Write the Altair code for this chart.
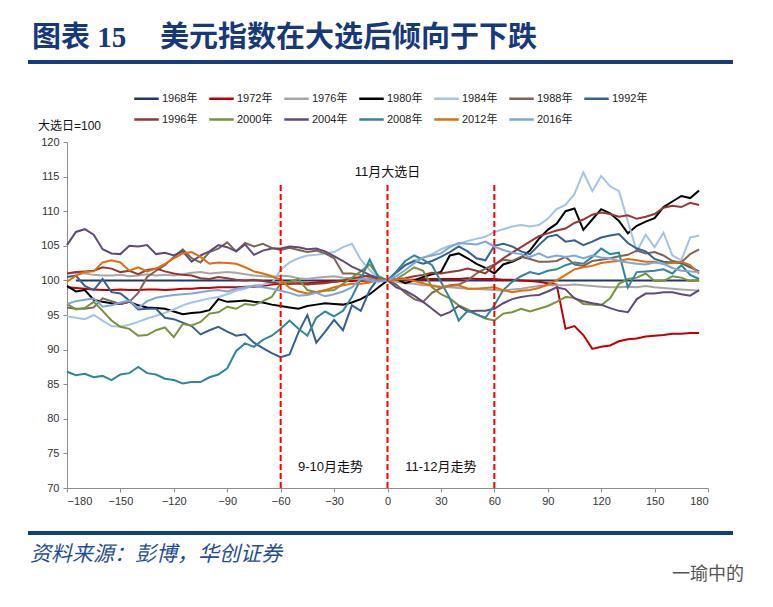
import altair as alt
import pandas as pd

# x grid (days relative to election day)
days = [-180, -175, -170, -165, -160, -155, -150, -145, -140, -135, -130, -125,
        -120, -115, -110, -105, -100, -95, -90, -85, -80, -75, -70, -65,
        -60, -55, -50, -45, -40, -35, -30, -25, -20, -15, -10, -5,
        0, 5, 10, 15, 20, 25, 30, 35, 40, 45, 50, 55,
        60, 65, 70, 75, 80, 85, 90, 95, 100, 105, 110, 115,
        120, 125, 130, 135, 140, 145, 150, 155, 160, 165, 170, 175]

series_names = ["1968年", "1972年", "1976年", "1980年", "1984年", "1988年", "1992年",
                "1996年", "2000年", "2004年", "2008年", "2012年", "2016年"]
series_colors = ["#1F3864", "#C00000", "#A6A6A6", "#000000", "#A3C4E4", "#7E6455", "#366092",
                 "#953735", "#77933C", "#604A7B", "#31859C", "#E46C0A", "#7EA6DB"]

v1968 = [None, 100.0, 100.0, 100.0, 100.0, 100.0, 100.0, 100.0, 100.0, 100.0, 100.0, 100.0,
         100.0, 100.0, 100.0, 100.0, 100.0, 100.0, 100.0, 100.0, 100.0, 100.0, 100.0, 100.0,
         100.0, 100.0, 100.0, 100.0, 100.0, 100.0, 100.0, 100.0, 100.0, 100.0, 100.0, 100.0,
         100.0, 100.0, 100.0, 100.0, 100.0, 100.0, 100.0, 100.0, 100.0, 100.0, 100.0, 100.0,
         100.0, 100.0, 100.0, 100.0, 100.0, 100.0, 100.0, 100.0, 100.0, 100.0, 100.0, 100.0,
         100.0, 100.0, 100.0, 100.0, 100.0, 100.0, 100.0, 100.0, 100.0, 100.0, 100.0, 100.0]
v1972 = [99.0, 98.9, 98.8, 98.7, 98.6, 98.6, 98.7, 98.6, 98.6, 98.7, 98.7, 98.6,
         98.7, 98.8, 98.8, 98.9, 98.9, 99.0, 99.0, 99.0, 99.1, 99.1, 99.2, 99.4,
         99.5, 99.5, 99.6, 99.6, 99.7, 99.8, 99.8, 99.9, 99.9, 100.0, 100.0, 100.0,
         100.0, 100.0, 100.1, 100.1, 100.2, 100.2, 100.2, 100.2, 100.2, 100.3, 100.2, 100.2,
         100.2, 100.1, 100.1, 100.0, 99.9, 99.8, 99.6, 99.4, 93.0, 93.4, 92.1, 90.1,
         90.4, 90.6, 91.2, 91.5, 91.6, 91.9, 92.0, 92.1, 92.3, 92.3, 92.4, 92.4]
v1976 = [101.0, 101.1, 101.0, 100.8, 100.7, 100.7, 100.8, 100.6, 100.7, 100.9, 100.7, 100.8,
         100.7, 100.9, 101.1, 101.2, 101.0, 101.1, 101.2, 101.1, 100.9, 100.7, 100.6, 100.5,
         100.7, 100.6, 100.3, 100.2, 100.4, 100.5, 100.6, 100.4, 100.3, 100.2, 100.3, 100.1,
         100.0, 99.8, 99.6, 99.5, 99.3, 99.3, 99.1, 99.0, 98.9, 98.8, 98.8, 98.7,
         98.6, 98.5, 98.7, 98.8, 99.0, 99.2, 99.3, 99.3, 99.3, 99.4, 99.3, 99.2,
         99.1, 99.0, 99.0, 99.1, 99.0, 99.2, 99.0, 98.9, 98.8, 98.7, 98.6, 98.5]
v1980 = [99.2, 98.4, 98.6, 97.2, 96.9, 96.7, 96.6, 96.9, 96.4, 96.1, 96.0, 95.9,
         95.5, 95.1, 95.3, 95.4, 95.7, 97.3, 96.9, 97.0, 97.1, 96.9, 96.8, 96.5,
         96.3, 96.1, 95.9, 96.3, 96.5, 96.7, 96.6, 96.5, 96.8, 97.3, 98.0, 99.0,
         100.0, 100.2, 99.6, 100.0, 100.5, 100.9, 101.2, 103.6, 103.9, 103.2, 102.4, 101.8,
         101.0, 102.3, 102.7, 103.3, 104.3, 106.0, 107.3, 108.2, 110.0, 110.4, 107.3, 108.8,
         110.3, 109.7, 108.6, 106.8, 107.9, 108.5, 109.0, 110.6, 111.4, 112.2, 111.9, 113.0]
v1984 = [94.8, 94.6, 94.4, 95.0, 94.2, 93.4, 93.3, 93.6, 94.0, 94.5, 94.9, 95.3,
         95.8, 96.4, 96.8, 97.1, 97.4, 97.6, 98.0, 98.5, 98.8, 99.3, 99.4, 99.6,
         101.5, 102.6, 103.2, 103.6, 103.7, 103.9, 104.1, 104.8, 105.3, 103.0, 101.5, 100.3,
         100.0, 101.0, 102.2, 102.9, 103.3, 103.8, 104.5, 105.0, 105.3, 105.7, 106.0, 106.3,
         107.0, 107.4, 107.8, 108.0, 107.8, 108.0, 108.9, 110.3, 110.9, 112.5, 115.6, 112.9,
         115.1, 113.6, 112.9, 108.5, 104.2, 106.6, 104.8, 106.9, 103.6, 102.9, 106.2, 106.5]
v1988 = [96.1, 95.9, 95.9, 96.1, 97.4, 97.0, 96.6, 96.9, 98.2, 100.5, 101.4, 102.2,
         103.4, 104.5, 103.2, 102.6, 104.1, 104.6, 105.5, 104.2, 105.4, 104.9, 105.3, 104.7,
         104.4, 104.7, 104.4, 104.1, 104.3, 103.9, 103.2, 101.0, 101.0, 100.8, 100.5, 100.2,
         100.0, 99.4, 98.2, 97.3, 96.9, 98.2, 98.9, 99.3, 99.4, 100.0, 101.0, 101.7,
         102.3, 103.0, 102.8, 103.4, 103.1, 102.7, 102.7, 102.8, 103.4, 102.3, 102.1, 102.8,
         103.0, 103.2, 103.5, 103.7, 104.3, 103.9, 104.1, 103.6, 102.8, 102.6, 103.8, 104.5]
v1992 = [100.5, 100.7, 99.2, 98.6, 100.2, 98.3, 98.1, 97.1, 95.8, 95.9, 95.9, 94.6,
         94.4, 93.9, 93.4, 92.2, 92.8, 93.3, 92.6, 92.0, 92.2, 91.0, 90.2, 89.5,
         88.9, 89.3, 92.5, 95.0, 91.0, 92.6, 94.3, 92.8, 96.4, 95.6, 98.6, 100.4,
         100.0, 101.2, 102.2, 102.8, 102.4, 102.8, 103.4, 104.1, 104.9, 104.2, 103.2, 102.9,
         105.0, 105.3, 104.9, 104.2, 103.8, 105.1, 106.3, 106.6, 105.6, 105.8, 105.1, 105.6,
         106.2, 106.5, 106.7, 105.4, 104.6, 104.2, 103.1, 102.7, 102.6, 102.5, 101.9, 101.3]
v1996 = [101.0, 101.2, 101.3, 101.4, 101.9, 101.7, 101.2, 101.4, 100.9, 101.5, 101.7, 101.3,
         101.0, 100.8, 100.7, 100.3, 100.2, 100.5, 100.3, 100.1, 100.0, 100.1, 99.9, 99.7,
         99.5, 99.6, 99.5, 99.4, 99.5, 99.6, 99.8, 100.0, 100.3, 100.5, 100.7, 100.3,
         100.0, 100.2, 100.3, 100.6, 100.8, 101.1, 101.0, 101.2, 101.4, 101.7, 101.4, 101.0,
         102.2, 103.2, 104.0, 104.8, 105.6, 106.4, 106.8, 107.2, 107.5, 108.3, 108.8, 109.5,
         109.8, 109.6, 109.2, 109.4, 108.9, 109.2, 109.6, 110.5, 110.8, 110.6, 111.2, 110.9]
v2000 = [96.6, 95.8, 96.0, 96.9, 95.6, 94.2, 93.3, 93.0, 92.0, 92.1, 92.8, 93.2,
         91.8, 93.7, 93.5, 94.0, 95.2, 95.4, 96.2, 95.9, 96.6, 96.4, 97.0, 97.6,
         99.6, 99.8, 100.2, 98.6, 98.3, 98.5, 98.6, 99.5, 100.4, 101.3, 102.3, 100.6,
         100.0, 100.2, 101.0, 101.9, 101.4, 99.0, 98.0, 97.4, 96.4, 95.8, 95.1, 94.5,
         94.2, 95.2, 95.4, 95.9, 95.5, 95.9, 96.3, 96.9, 97.6, 97.5, 96.6, 96.5,
         96.4, 97.4, 99.5, 100.2, 100.4, 101.0, 99.9, 99.9, 100.6, 100.4, 99.9, 100.0]
v2004 = [105.1, 107.0, 107.4, 106.6, 104.5, 103.9, 103.8, 105.0, 104.9, 105.1, 103.8, 104.0,
         103.6, 104.2, 102.7, 103.6, 104.2, 105.1, 104.8, 104.2, 105.2, 103.7, 104.3, 104.6,
         104.6, 104.9, 104.8, 104.5, 104.6, 104.2, 103.5, 102.8, 102.0, 101.4, 100.8, 100.3,
         100.0, 99.0, 98.5, 97.8, 96.9, 95.9, 94.9, 95.4, 96.3, 95.5, 95.6, 95.6,
         95.9, 96.7, 97.3, 97.6, 97.8, 97.9, 98.4, 99.0, 98.7, 97.4, 97.0, 96.7,
         96.5, 96.0, 95.6, 95.4, 97.3, 98.1, 98.1, 98.3, 98.3, 98.0, 97.8, 98.6]
v2008 = [86.8, 86.3, 86.5, 86.0, 86.2, 85.6, 86.4, 86.6, 87.5, 86.6, 86.4, 85.8,
         85.6, 85.1, 85.3, 85.3, 86.0, 86.4, 87.3, 89.8, 90.9, 90.4, 91.4, 92.0,
         93.0, 94.2, 93.0, 92.0, 94.6, 95.5, 94.8, 95.6, 97.6, 100.2, 103.0, 100.4,
         100.0, 101.3, 102.8, 103.6, 103.0, 102.2, 99.8, 97.4, 94.2, 95.6, 95.1, 94.6,
         96.4, 98.6, 99.8, 100.6, 101.2, 100.9, 101.4, 101.6, 102.2, 102.6, 102.4, 103.4,
         104.6, 103.8, 104.0, 99.0, 101.2, 101.3, 101.4, 101.6, 101.0, 102.2, 100.8, 100.2]
v2012 = [99.8, 100.7, 101.2, 101.3, 102.6, 102.9, 102.6, 101.4, 101.9, 101.3, 101.7, 102.4,
         103.2, 103.9, 104.1, 103.4, 102.4, 102.6, 102.5, 102.4, 101.9, 101.3, 101.0, 100.6,
         100.1, 98.9, 98.4, 98.1, 98.3, 98.6, 99.0, 99.3, 99.5, 99.5, 99.7, 100.1,
         100.0, 100.1, 100.2, 99.9, 99.6, 99.2, 99.0, 99.2, 99.3, 98.8, 98.8, 98.9,
         99.0, 98.6, 98.3, 98.5, 98.6, 98.9, 99.4, 100.0, 100.8, 101.6, 101.9, 102.1,
         102.5, 102.7, 102.8, 103.1, 102.9, 102.7, 102.7, 102.4, 102.5, 102.7, 102.2, 101.0]
v2016 = [96.6, 97.0, 97.2, 97.4, 96.2, 96.4, 96.8, 97.1, 96.0, 97.0, 97.5, 97.7,
         97.9, 98.0, 98.1, 98.3, 98.5, 98.6, 98.4, 98.8, 99.0, 99.2, 99.0, 98.8,
         98.5, 98.2, 97.8, 97.9, 98.2, 97.7, 98.0, 98.4, 99.0, 100.2, 100.0, 99.8,
         100.0, 100.6, 101.5, 102.5, 103.3, 103.6, 103.9, 104.8, 105.4, 105.3, 105.2, 105.6,
         104.9, 104.4, 104.0, 103.8, 103.4, 103.9, 103.3, 103.6, 103.4, 103.6, 103.2, 103.6,
         103.3, 103.2, 102.8, 102.6, 102.4, 102.3, 102.6, 102.4, 101.8, 101.4, 101.3, 101.2]

all_values = [v1968, v1972, v1976, v1980, v1984, v1988, v1992,
              v1996, v2000, v2004, v2008, v2012, v2016]

x_ticks = [-180, -150, -120, -90, -60, -30, 0, 30, 60, 90, 120, 150, 180]
y_ticks = [70, 75, 80, 85, 90, 95, 100, 105, 110, 115, 120]

marker_days = [-60, 0, 60]
marker_top = 113.8
ann_days = [0, -32, 30]
ann_vals = [115.6, 73.0, 73.0]
ann_texts = ["11月大选日", "9-10月走势", "11-12月走势"]

rows = []
for name, vals in zip(series_names, all_values):
    for d, v in zip(days, vals):
        if v is not None:
            rows.append({"day": d, "value": v, "series": name})
df = pd.DataFrame(rows)

CJK = "Liberation Sans, Noto Sans CJK SC, sans-serif"

x_scale = alt.Scale(domain=[-180, 180], nice=False, zero=False)
y_scale = alt.Scale(domain=[70, 120], nice=False, zero=False)
x_axis = alt.Axis(values=x_ticks, title=None, grid=False, format="d",
                  labelFont=CJK, labelFontSize=11, labelColor="#333333",
                  domainColor="#8C8C8C", tickColor="#8C8C8C", tickSize=4,
                  labelPadding=3, labelOverlap=False)
y_axis = alt.Axis(values=y_ticks, title=None, grid=False, format="d",
                  labelFont=CJK, labelFontSize=11, labelColor="#333333",
                  domainColor="#8C8C8C", tickColor="#8C8C8C", tickSize=4,
                  labelPadding=4, labelOverlap=False)

lines = alt.Chart(df).mark_line(strokeWidth=2).encode(
    x=alt.X("day:Q", scale=x_scale, axis=x_axis),
    y=alt.Y("value:Q", scale=y_scale, axis=y_axis),
    color=alt.Color("series:N",
                    scale=alt.Scale(domain=series_names, range=series_colors),
                    legend=alt.Legend(title=None, orient="none", legendX=66, legendY=-57,
                                      direction="horizontal", columns=7,
                                      symbolType="stroke", symbolSize=600,
                                      symbolStrokeWidth=2.5, labelFont=CJK,
                                      labelFontSize=11, labelColor="#222222",
                                      labelOffset=2, columnPadding=6, rowPadding=2)),
    detail="series:N",
)

mk = pd.DataFrame({"day": marker_days, "top": [marker_top] * len(marker_days),
                   "bottom": [70] * len(marker_days)})
rules = alt.Chart(mk).mark_rule(color="#FF0000", strokeDash=[6, 3], strokeWidth=2).encode(
    x=alt.X("day:Q", scale=x_scale, axis=x_axis),
    y=alt.Y("top:Q", scale=y_scale, axis=y_axis), y2="bottom:Q")

ann = pd.DataFrame({"day": ann_days, "value": ann_vals, "text": ann_texts})
ann_text = alt.Chart(ann).mark_text(font=CJK, fontSize=13, color="#111111").encode(
    x=alt.X("day:Q", scale=x_scale, axis=x_axis),
    y=alt.Y("value:Q", scale=y_scale, axis=y_axis), text="text:N")

def label(txt, x, y, **kw):
    return alt.Chart(pd.DataFrame({"t": [txt]})).mark_text(**kw).encode(
        x=alt.value(x), y=alt.value(y), text="t:N")

title1 = label("图表 15", -35, -104, font="Liberation Serif, Noto Sans CJK SC", fontSize=29,
               fontWeight="bold", color="#17397A", align="left", baseline="middle")
title2 = label("美元指数在大选后倾向于下跌", 93, -104, font="Noto Sans CJK SC", fontSize=29,
               fontWeight="bold", color="#17397A", align="left", baseline="middle")
unit = label("大选日=100", -29, -16, font=CJK, fontSize=12, color="#111111",
             align="left", baseline="middle")
source = label("资料来源：彭博，华创证券", -37, 413, font="Noto Sans CJK SC", fontSize=21,
               fontStyle="italic", color="#1F4E96", align="left", baseline="middle")
wm = label("一瑜中的", 605, 433, font="Noto Sans CJK SC", fontSize=18, color="#555555",
           align="left", baseline="middle")

top_rule = alt.Chart(pd.DataFrame({"a": [0]})).mark_rule(color="#0F3F7F", strokeWidth=4).encode(
    x=alt.value(-39), x2=alt.value(666), y=alt.value(-80))
bot_rule = alt.Chart(pd.DataFrame({"a": [0]})).mark_rule(color="#0F3F7F", strokeWidth=4).encode(
    x=alt.value(-39), x2=alt.value(666), y=alt.value(391))

chart = alt.layer(lines, rules, ann_text, title1, title2, unit, source, wm, top_rule, bot_rule).properties(
    width=641, height=346,
    autosize=alt.AutoSizeParams(type="none"),
    padding={"left": 59, "top": 134, "right": 57, "bottom": 111},
    background="white",
).configure_view(stroke=None)

chart.save("out.html", embed_options={"renderer": "svg", "actions": False})
